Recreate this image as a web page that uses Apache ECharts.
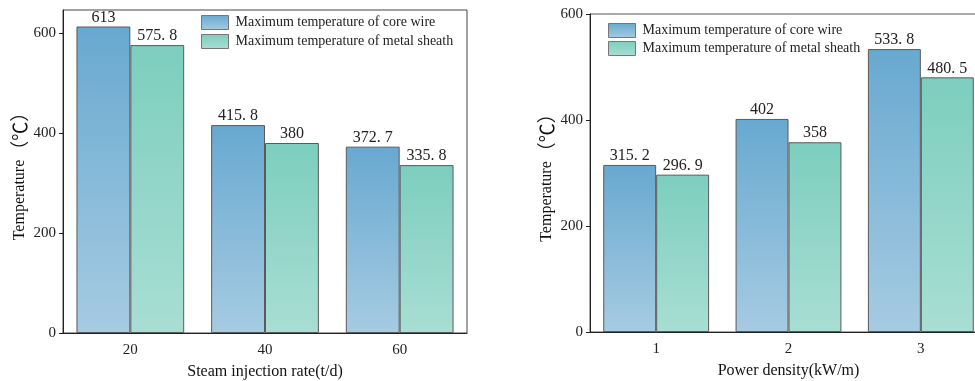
<!DOCTYPE html>
<html>
<head>
<meta charset="utf-8">
<script src="https://cdn.jsdelivr.net/npm/echarts@6/dist/echarts.min.js"></script>
<style>html,body{margin:0;padding:0;background:#fff}#c{width:975px;height:381px}</style>
</head>
<body>
<div id="c"></div>
<script>
const seriesNames = ['Maximum temperature of core wire', 'Maximum temperature of metal sheath'];
const leftCategories = ['20', '40', '60'];
const leftCore = [613, 415.8, 372.7];
const leftSheath = [575.8, 380, 335.8];
const rightCategories = ['1', '2', '3'];
const rightCore = [315.2, 402, 533.8];
const rightSheath = [296.9, 358, 480.5];
const yTicks = [0, 200, 400, 600];

const serif = '"Liberation Serif", "Times New Roman", serif';
const cjk = '"Noto Sans CJK SC", sans-serif';
const grad = (a, b) => new echarts.graphic.LinearGradient(0, 0, 0, 1, [{offset: 0, color: a}, {offset: 1, color: b}]);
const blue = () => grad('#68a9d0', '#a6cbe2');
const green = () => grad('#7ccebe', '#a9ded4');

const fmt = p => String(p.value).replace('.', '. ');

function xAxis(idx, cats, name) {
  return {
    type: 'category', gridIndex: idx, data: cats,
    name: name, nameLocation: 'middle', nameGap: 31,
    nameTextStyle: {fontFamily: serif, fontSize: 16, color: '#111'},
    axisLine: {lineStyle: {color: '#222', width: 1}},
    axisTick: {inside: true, alignWithLabel: true, length: 5, lineStyle: {color: '#222'}},
    axisLabel: {fontFamily: serif, fontSize: 15, color: '#222', margin: 10},
    splitLine: {show: false}
  };
}
function yAxis(idx, max) {
  return {
    type: 'value', gridIndex: idx, min: 0, max: max, interval: 200,
    name: '{a|Temperature}{b|（℃）}', nameLocation: 'middle', nameGap: 34,
    nameTextStyle: {color: '#111', rich: {
      a: {fontFamily: serif, fontSize: 16, color: '#111'},
      b: {fontFamily: cjk, fontSize: 19, color: '#111'}
    }},
    axisLine: {show: true, lineStyle: {color: '#222', width: 1}},
    axisTick: {show: true, inside: false, length: 4, lineStyle: {color: '#222'}, customValues: yTicks},
    axisLabel: {fontFamily: serif, fontSize: 15, color: '#222', margin: 7, customValues: yTicks},
    splitLine: {show: false}
  };
}
function bar(name, data, color, idx) {
  return {
    type: 'bar', name: name, data: data, xAxisIndex: idx, yAxisIndex: idx,
    barCategoryGap: '20%', barGap: '0%',
    itemStyle: {color: color, borderColor: '#5a5a5a', borderWidth: 1},
    label: {show: true, position: 'top', distance: 1, formatter: fmt, fontFamily: serif, fontSize: 16, color: '#222'}
  };
}
function legend(left, top, gap) {
  return {data: seriesNames, orient: 'vertical', left: left, top: top, padding: 0,
    itemWidth: 27, itemHeight: 14, itemGap: gap, icon: 'rect',
    textStyle: {fontFamily: serif, fontSize: 14, color: '#222', padding: [0, 0, 0, 2]},
    itemStyle: {borderColor: '#777', borderWidth: 1}};
}

const chart = echarts.init(document.getElementById('c'), null, {renderer: 'canvas'});
chart.setOption({
  animation: false,
  backgroundColor: '#fff',
  grid: [
    {left: 63, width: 404, top: 10, height: 323, outerBoundsMode: 'none', containLabel: false, show: true, borderColor: '#444', borderWidth: 1, backgroundColor: 'transparent'},
    {left: 590, width: 397, top: 14, height: 318, outerBoundsMode: 'none', containLabel: false, show: true, borderColor: '#555', borderWidth: 1, backgroundColor: 'transparent'}
  ],
  legend: [legend(201, 15, 4), legend(608, 23, 3)],
  xAxis: [xAxis(0, leftCategories, 'Steam injection rate(t/d)'), xAxis(1, rightCategories, 'Power density(kW/m)')],
  yAxis: [yAxis(0, 646), yAxis(1, 600)],
  series: [
    bar(seriesNames[0], leftCore, blue(), 0),
    bar(seriesNames[1], leftSheath, green(), 0),
    bar(seriesNames[0], rightCore, blue(), 1),
    bar(seriesNames[1], rightSheath, green(), 1)
  ]
});
</script>
</body>
</html>
